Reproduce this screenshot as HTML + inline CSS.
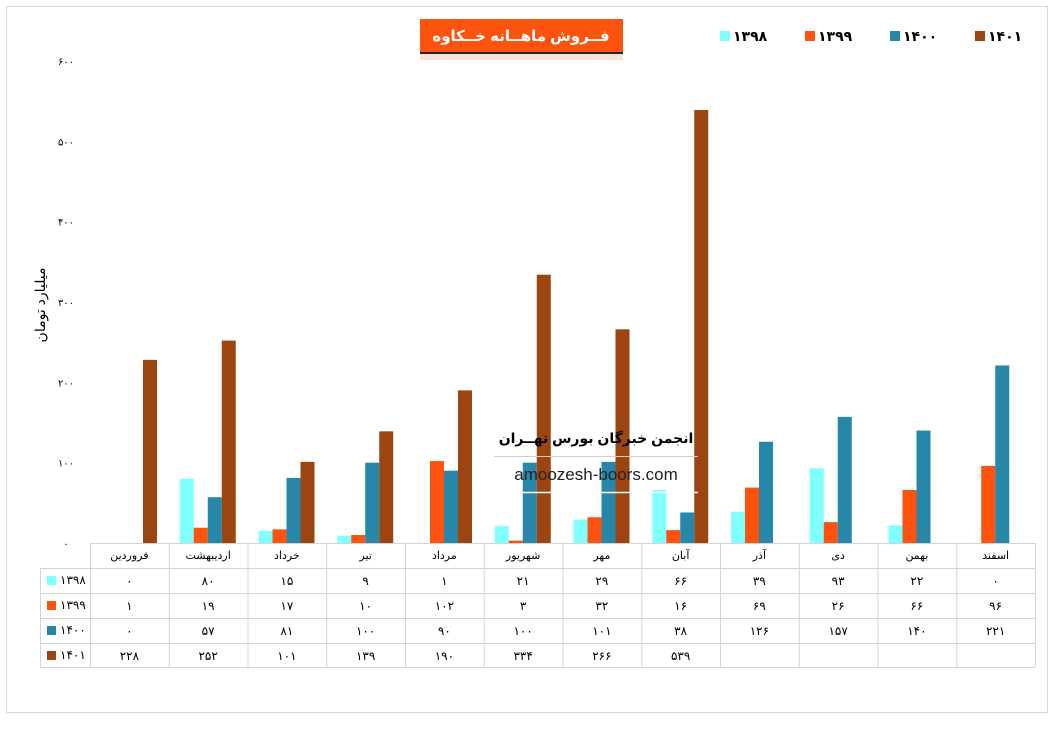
<!DOCTYPE html>
<html><head><meta charset="utf-8"><style>
body{margin:0;background:#fff;font-family:"Liberation Sans","Noto Sans CJK SC",sans-serif}
</style></head><body>
<svg id="s" width="1056" height="724" xmlns="http://www.w3.org/2000/svg" font-family="Liberation Sans, DejaVu Sans, sans-serif"></svg>
<script>
const s=document.getElementById('s');
let h='<rect x="0" y="0" width="1056" height="724" fill="#fff"/>';
h+='<rect x="6.5" y="6.5" width="1041" height="706" fill="none" stroke="#d9d9d9"/>';
h+='<rect x="420" y="19" width="203" height="33" fill="#fe520f"/><rect x="420" y="52" width="203" height="2" fill="#222"/>';
h+='<rect x="420" y="54" width="203" height="6" fill="#f3d0c0" opacity="0.6"/>';
h+='<text x="521" y="41" text-anchor="middle" font-size="15" font-weight="bold" fill="#fff" direction="rtl">فــروش ماهــانه خــکاوه</text>';
const cols=['#80ffff','#fe520f','#2687a8','#9c4511'],yrs=['۱۳۹۸','۱۳۹۹','۱۴۰۰','۱۴۰۱'];
const lx=[720,805,890,975];
for(let i=0;i<4;i++){h+=`<rect x="${lx[i]}" y="31" width="10" height="10" fill="${cols[i]}"/><text x="${lx[i]+13}" y="41" font-size="14" font-weight="bold" fill="#000">${yrs[i]}</text>`;}
const y0=543,k=0.8033;
const fa=n=>String(n).replace(/\d/g,d=>'۰۱۲۳۴۵۶۷۸۹'[d]);
for(let v=0;v<=600;v+=100){h+=`<text x="66" y="${y0-v*k+4}" text-anchor="middle" font-size="10" fill="#000">${fa(v)}</text>`;}
h+='<text transform="translate(45,305) rotate(-90)" text-anchor="middle" font-size="14" fill="#000">میلیارد تومان</text>';
const months=['فروردین','اردیبهشت','خرداد','تیر','مرداد','شهریور','مهر','آبان','آذر','دی','بهمن','اسفند'];
const d=[[0,80,15,9,1,21,29,66,39,93,22,0],[1,19,17,10,102,3,32,16,69,26,66,96],[0,57,81,100,90,100,101,38,126,157,140,221],[228,252,101,139,190,334,266,539,null,null,null,null]];
const x0=90,cw=78.75;
for(let m=0;m<12;m++){for(let i=0;i<4;i++){const v=d[i][m];if(!v||v<2)continue;const bh=v*k;h+=`<rect x="${x0+m*cw+11+i*14}" y="${y0-bh}" width="14" height="${bh}" fill="${cols[i]}"/>`;}}
h+='<text x="596" y="443" text-anchor="middle" font-size="14" font-weight="bold" fill="#000">انجمن خبرگان بورس تهــران</text>';
h+='<line x1="494" y1="456.5" x2="698" y2="456.5" stroke="#d0d0d0"/><line x1="494" y1="492.5" x2="698" y2="492.5" stroke="#fff" stroke-width="1.5"/>';
h+='<text x="596" y="480" text-anchor="middle" font-size="17" fill="#222">amoozesh-boors.com</text>';
const ry=[543,568,593,618,643,667];const g='#d4d4d4';
h+=`<line x1="${x0}" y1="543.5" x2="1035" y2="543.5" stroke="${g}"/>`;
for(let r=1;r<6;r++)h+=`<line x1="40" y1="${ry[r]+.5}" x2="1035" y2="${ry[r]+.5}" stroke="${g}"/>`;
h+=`<line x1="40.5" y1="568" x2="40.5" y2="667" stroke="${g}"/>`;
for(let c=0;c<=12;c++)h+=`<line x1="${x0+c*cw+.5}" y1="543" x2="${x0+c*cw+.5}" y2="667" stroke="${g}"/>`;
for(let m=0;m<12;m++){const cx=x0+m*cw+cw/2;h+=`<text x="${cx}" y="559" text-anchor="middle" font-size="11" fill="#000">${months[m]}</text>`;
for(let i=0;i<4;i++){const v=d[i][m];if(v===null)continue;h+=`<text x="${cx}" y="${ry[i+1]+17}" text-anchor="middle" font-size="12" fill="#000">${fa(v)}</text>`;}}
for(let i=0;i<4;i++){h+=`<rect x="47" y="${ry[i+1]+8}" width="9" height="9" fill="${cols[i]}"/><text x="60" y="${ry[i+1]+16}" font-size="12" fill="#000">${yrs[i]}</text>`;}
s.innerHTML=h;
</script>
</body></html>
